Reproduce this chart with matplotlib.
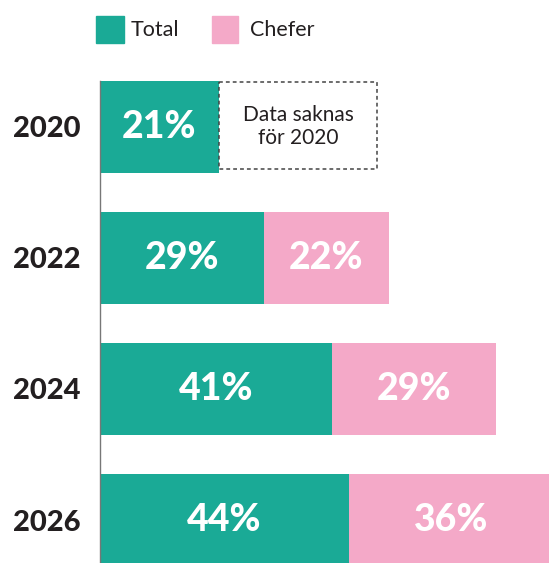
import matplotlib.pyplot as plt
from matplotlib.patches import Rectangle

years = ['2020', '2022', '2024', '2026']
total = [21, 29, 41, 44]
chefer = [None, 22, 29, 36]
missing_text = 'Data saknas\nför 2020'
missing_width = 28

teal = '#1AAA96'
pink = '#F4A9C8'
dark = '#231F20'

plt.rcParams['font.family'] = ['Lato', 'DejaVu Sans']

fig = plt.figure(figsize=(5.49, 5.63), dpi=100)
ax = fig.add_axes([100 / 549, 0, 449 / 549, 1 - 81 / 563])

ypos = list(range(len(years)))
h = 0.70

ax.barh(ypos, total, height=h, color=teal, left=0)
for i, (t, c) in enumerate(zip(total, chefer)):
    ax.text(t / 2, i, f'{t}%', ha='center', va='center', color='white',
            fontsize=27, fontweight='black')
    if c is None:
        ax.add_patch(Rectangle((t, i - h / 2 + 0.01), missing_width, h - 0.04,
                               fill=False, edgecolor='#444444', linestyle=(0, (2.5, 2)),
                               linewidth=1.1))
        ax.text(t + missing_width / 2, i, missing_text, ha='center', va='center',
                color=dark, fontsize=15, linespacing=1.2)
    else:
        ax.barh(i, c, height=h, left=t, color=pink)
        ax.text(t + c / 2, i, f'{c}%', ha='center', va='center', color='white',
                fontsize=27, fontweight='black')

ax.set_xlim(0, 449 / 5.66)
ax.set_ylim(3.328, -0.35)
ax.set_yticks(ypos)
ax.set_yticklabels(years, fontsize=21, fontweight='black', color=dark)
ax.tick_params(axis='y', length=0, pad=14)
ax.set_xticks([])
for s in ['top', 'right', 'bottom']:
    ax.spines[s].set_visible(False)
ax.spines['left'].set_color('#777777')
ax.spines['left'].set_linewidth(1)

# legend
fig.patches.append(Rectangle((96 / 549, 1 - 43 / 563), 28 / 549, 27 / 563,
                             transform=fig.transFigure, color=teal, figure=fig))
fig.text(131 / 549, 1 - 29.5 / 563, 'Total', ha='left', va='center', fontsize=15.5, color=dark)
fig.patches.append(Rectangle((212 / 549, 1 - 43 / 563), 26 / 549, 27 / 563,
                             transform=fig.transFigure, color=pink, figure=fig))
fig.text(250 / 549, 1 - 29.5 / 563, 'Chefer', ha='left', va='center', fontsize=15.5, color=dark)

fig.savefig('out.png', dpi=100)
